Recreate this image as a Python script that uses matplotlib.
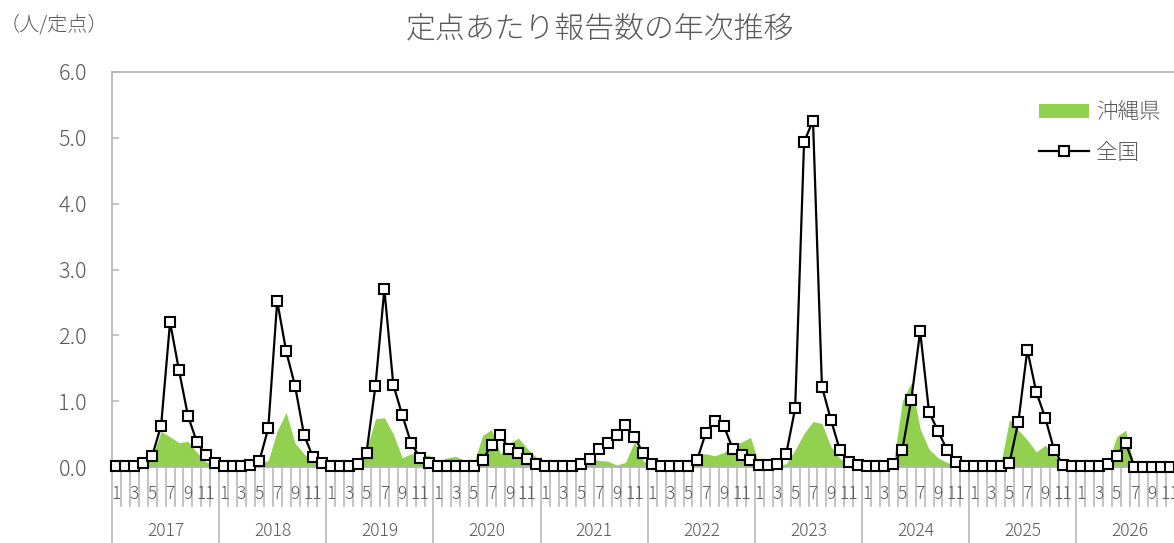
import numpy as np
import matplotlib
matplotlib.use("Agg")
import matplotlib.pyplot as plt
import matplotlib.transforms as mtransforms
from matplotlib.patches import Patch
from matplotlib.lines import Line2D

plt.rcParams['font.family'] = ['Noto Sans CJK JP', 'DejaVu Sans']
plt.rcParams['font.weight'] = 'light'

# --- データ (月別, 2017年1月〜2026年12月) ---
years = ['2017', '2018', '2019', '2020', '2021', '2022', '2023', '2024', '2025', '2026']
month_labels = ['1', '', '3', '', '5', '', '7', '', '9', '', '11', '']

zenkoku = [
    0.02, 0.02, 0.02, 0.06, 0.17, 0.63, 2.20, 1.47, 0.78, 0.38, 0.18, 0.06,  # 2017
    0.02, 0.01, 0.01, 0.03, 0.09, 0.59, 2.52, 1.76, 1.23, 0.49, 0.15, 0.06,  # 2018
    0.02, 0.02, 0.02, 0.04, 0.22, 1.23, 2.70, 1.25, 0.79, 0.36, 0.14, 0.06,  # 2019
    0.01, 0.01, 0.01, 0.01, 0.02, 0.10, 0.34, 0.48, 0.27, 0.22, 0.12, 0.05,  # 2020
    0.01, 0.01, 0.01, 0.02, 0.04, 0.12, 0.28, 0.36, 0.49, 0.64, 0.45, 0.21,  # 2021
    0.04, 0.01, 0.01, 0.01, 0.02, 0.10, 0.52, 0.70, 0.63, 0.28, 0.18, 0.10,  # 2022
    0.03, 0.03, 0.05, 0.20, 0.89, 4.94, 5.26, 1.22, 0.72, 0.26, 0.08, 0.03,  # 2023
    0.02, 0.02, 0.02, 0.05, 0.26, 1.02, 2.06, 0.83, 0.55, 0.26, 0.08, 0.02,  # 2024
    0.01, 0.01, 0.01, 0.02, 0.06, 0.69, 1.78, 1.14, 0.75, 0.26, 0.03, 0.01,  # 2025
    0.01, 0.01, 0.01, 0.05, 0.17, 0.37, 0.00, 0.00, 0.00, 0.00, 0.00, 0.00,  # 2026
]

okinawa = [
    0.02, 0.02, 0.02, 0.04, 0.15, 0.54, 0.46, 0.37, 0.39, 0.22, 0.08, 0.03,  # 2017
    0.02, 0.02, 0.02, 0.03, 0.05, 0.10, 0.55, 0.83, 0.36, 0.20, 0.08, 0.03,  # 2018
    0.02, 0.02, 0.02, 0.05, 0.27, 0.73, 0.75, 0.50, 0.14, 0.20, 0.18, 0.18,  # 2019
    0.08, 0.14, 0.16, 0.10, 0.05, 0.48, 0.57, 0.20, 0.36, 0.44, 0.28, 0.15,  # 2020
    0.06, 0.05, 0.05, 0.05, 0.14, 0.13, 0.10, 0.09, 0.03, 0.07, 0.38, 0.09,  # 2021
    0.02, 0.02, 0.02, 0.02, 0.03, 0.20, 0.20, 0.17, 0.22, 0.33, 0.38, 0.45,  # 2022
    0.02, 0.02, 0.02, 0.05, 0.26, 0.51, 0.69, 0.66, 0.31, 0.13, 0.05, 0.02,  # 2023
    0.02, 0.02, 0.02, 0.05, 1.00, 1.28, 0.58, 0.27, 0.14, 0.07, 0.03, 0.02,  # 2024
    0.02, 0.02, 0.02, 0.03, 0.72, 0.56, 0.41, 0.23, 0.33, 0.18, 0.06, 0.02,  # 2025
    0.02, 0.02, 0.02, 0.04, 0.46, 0.56, 0.00, 0.00, 0.00, 0.00, 0.00, 0.00,  # 2026
]

y_ticks = [0.0, 1.0, 2.0, 3.0, 4.0, 5.0, 6.0]

TXT = '#595959'
AXC = '#B3B3B3'
GREEN = '#92D050'

W, H = 1174, 543
fig = plt.figure(figsize=(W / 100, H / 100), dpi=100)
n = len(zenkoku)
month_w = 1071.6  # 10年分の横幅(px), 右端は画像外にはみ出す
ax = fig.add_axes([112 / W, 76 / H, month_w / W, 395 / H])

x = np.arange(n)
ax.fill_between(x, okinawa, 0, color=GREEN, linewidth=0, zorder=1)
ax.plot(x, zenkoku, color='black', linewidth=1.6, marker='s', markersize=7,
        markerfacecolor='white', markeredgecolor='black', markeredgewidth=1.5,
        zorder=3, clip_on=False)

ax.set_xlim(-0.5, n - 0.5)
ax.set_ylim(0, 6.0)

# 軸・目盛
for side in ['left', 'bottom', 'top', 'right']:
    ax.spines[side].set_color(AXC)
    ax.spines[side].set_linewidth(1.2)
ax.set_yticks(y_ticks)
ax.set_yticklabels([f'{v:.1f}' for v in y_ticks])
ax.tick_params(axis='y', direction='in', length=5, width=1.1, color=AXC,
               labelsize=15.5, labelcolor=TXT, pad=18)

ax.set_xticks(np.arange(-0.5, n, 12))
ax.set_xticks(np.arange(-0.5, n, 1), minor=True)
ax.tick_params(axis='x', which='major', direction='out', length=55, width=1.1,
               color=AXC, labelbottom=False)
ax.tick_params(axis='x', which='minor', direction='out', length=29, width=1.1,
               color=AXC, labelbottom=False)

trans = mtransforms.blended_transform_factory(ax.transData, ax.transAxes)
for i in range(n):
    lab = month_labels[i % 12]
    if lab:
        ax.text(i, -0.068, lab, transform=trans, ha='center', va='center',
                fontsize=12.5, color=TXT, clip_on=False)
for k, yr in enumerate(years):
    ax.text(k * 12 + 5.5, -0.162, yr, transform=trans, ha='center', va='center',
            fontsize=12.5, color=TXT)

# タイトル・単位
fig.text(600 / W, 1 - 29 / H, '定点あたり報告数の年次推移', ha='center', va='center',
         fontsize=21.5, color=TXT)
fig.text(0 / W, 1 - 25 / H, '（人/定点）', ha='left', va='center',
         fontsize=14.5, color=TXT)

# 凡例
handles = [Patch(facecolor=GREEN, edgecolor='none'),
           Line2D([], [], color='black', linewidth=1.6, marker='s', markersize=7,
                  markerfacecolor='white', markeredgecolor='black', markeredgewidth=1.5)]
ax.legend(handles, ['沖縄県', '全国'], loc='upper left',
          bbox_to_anchor=(1020 / W, 1 - 82 / H), bbox_transform=fig.transFigure,
          frameon=False, fontsize=15.5, labelcolor=TXT, handlelength=2.3,
          handleheight=0.6, handletextpad=0.35, labelspacing=0.85)

fig.savefig('out.png', dpi=100)
